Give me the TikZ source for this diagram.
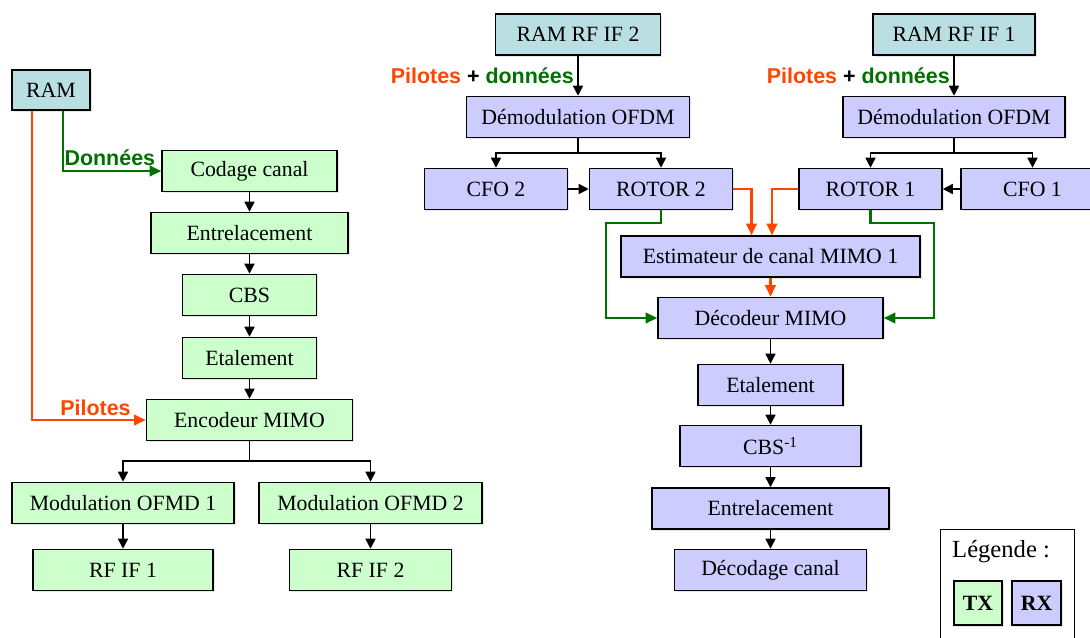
\documentclass[tikz,border=0pt]{standalone}
\usepackage{fontspec}
\setmainfont{Liberation Serif}
\newfontfamily\tagfont{Liberation Sans}
\usetikzlibrary{arrows.meta,positioning,shadows}
\definecolor{txgreen}{RGB}{204,255,204}
\definecolor{rxblue}{RGB}{204,204,255}
\definecolor{ramteal}{RGB}{185,223,226}
\definecolor{pilotred}{RGB}{255,69,0}
\definecolor{datagreen}{RGB}{0,112,0}
\tikzset{
  >={Triangle[length=2mm,width=2mm]},
  blk/.style={draw=black,fill=#1,line width=0.9pt,minimum height=8.2mm,inner sep=1pt,
    font=\fontsize{12.4}{14}\selectfont,
    drop shadow={opacity=0.2,shadow xshift=0.35mm,shadow yshift=-0.35mm}},
  blk/.default=txgreen,
  link/.style={->,line width=0.9pt,draw=black},
  pilot/.style={-{Triangle[length=2.3mm,width=2.1mm]},line width=1.2pt,draw=pilotred},
  data/.style={-{Triangle[length=2.3mm,width=2.1mm]},line width=1.2pt,draw=datagreen},
  tag/.style={font=\tagfont\bfseries\fontsize{12.2}{14}\selectfont,inner sep=1pt},
}
\begin{document}
\begin{tikzpicture}[x=0.2mm,y=-0.2mm]
  \clip (0,0) rectangle (1090,637);
  % emission
  \node[blk=ramteal,minimum width=15.6mm,minimum height=8mm] (ram) at (51,90) {RAM};
  \node[blk,minimum width=35mm] (codage) at (249.5,171) {Codage canal};
  \node[blk,minimum width=39.4mm] (entrel) at (249.5,233) {Entrelacement};
  \node[blk,minimum width=26.8mm] (cbs) at (249.5,295) {CBS};
  \node[blk,minimum width=26.8mm] (etal) at (249.5,358) {Etalement};
  \node[blk,minimum width=41.2mm] (enc) at (249.5,420) {Encodeur MIMO};
  \node[blk,minimum width=44.4mm] (mod1) at (123,503) {Modulation OFMD 1};
  \node[blk,minimum width=44.6mm] (mod2) at (370.5,503) {Modulation OFMD 2};
  \node[blk,minimum width=36mm] (rf1) at (123,570) {RF IF 1};
  \node[blk,minimum width=32.4mm] (rf2) at (370.5,570) {RF IF 2};
  \foreach \a/\b in {codage/entrel,entrel/cbs,cbs/etal,etal/enc,mod1/rf1,mod2/rf2}
    \draw[link] (\a) -- (\b);
  \coordinate (encfork) at (249.5,461);
  \draw[link] (enc) -- (encfork) -| (mod1);
  \draw[link] (encfork) -| (mod2);
  \draw[data] ([xshift=2.4mm]ram.south) |- (codage.west);
  \node[tag,text=datagreen,anchor=south east] (datalbl) at ([xshift=-0.8mm,yshift=0.6mm]codage.west) {Données};
  \draw[pilot] ([xshift=-3.8mm]ram.south) |- (enc.west);
  \node[tag,text=pilotred,anchor=south east] (pilotlbl) at ([xshift=-2.6mm,yshift=0.5mm]enc.west) {Pilotes};
  % reception
  \node[blk=ramteal,minimum width=33mm] (ramrf2) at (578,34.5) {RAM RF IF 2};
  \node[blk=ramteal,minimum width=32.4mm] (ramrf1) at (954,34.5) {RAM RF IF 1};
  \node[blk=rxblue,minimum width=44.6mm] (demod2) at (578,117) {Démodulation OFDM};
  \node[blk=rxblue,minimum width=44.4mm] (demod1) at (954,117) {Démodulation OFDM};
  \node[blk=rxblue,minimum width=28.6mm] (cfo2) at (496,189) {CFO 2};
  \node[blk=rxblue,minimum width=28.6mm] (rotor2) at (661,189) {ROTOR 2};
  \node[blk=rxblue,minimum width=28.6mm] (rotor1) at (870.5,189) {ROTOR 1};
  \node[blk=rxblue,minimum width=28.6mm] (cfo1) at (1032.5,189) {CFO 1};
  \node[blk=rxblue,minimum width=59.8mm] (estim) at (770.5,256.5) {Estimateur de canal MIMO 1};
  \node[blk=rxblue,minimum width=45mm] (decod) at (770.5,318) {Décodeur MIMO};
  \node[blk=rxblue,minimum width=29mm] (etal2) at (770.5,385) {Etalement};
  \node[blk=rxblue,minimum width=36.2mm] (cbsinv) at (770.5,446) {CBS\textsuperscript{-1}};
  \node[blk=rxblue,minimum width=47.5mm] (entrel2) at (770.5,508.5) {Entrelacement};
  \node[blk=rxblue,minimum width=38.4mm] (decodage) at (770.5,570) {Décodage canal};
  \draw[link] (ramrf2) -- node[tag,left=1pt] {\textcolor{pilotred}{Pilotes} + \textcolor{datagreen}{données}} (demod2);
  \draw[link] (ramrf1) -- node[tag,left=1pt] {\textcolor{pilotred}{Pilotes} + \textcolor{datagreen}{données}} (demod1);
  \coordinate (d2fork) at (578,153);
  \coordinate (d1fork) at (954,153);
  \draw[link] (demod2) -- (d2fork) -| (cfo2);
  \draw[link] (d2fork) -| (rotor2);
  \draw[link] (demod1) -- (d1fork) -| (rotor1);
  \draw[link] (d1fork) -| (cfo1);
  \draw[link] (cfo2) -- (rotor2);
  \draw[link] (cfo1) -- (rotor1);
  \draw[pilot] (rotor2.east) -| ([xshift=-3.8mm]estim.north);
  \draw[pilot] (rotor1.west) -| ([xshift=0.3mm]estim.north);
  \draw[pilot] (estim) -- (decod);
  \draw[data] (rotor2.south) -- ++(0,13) -| ([xshift=-10.2mm]decod.west) -- (decod.west);
  \draw[data] (rotor1.south) -- ++(0,13) -| ([xshift=10mm]decod.east) -- (decod.east);
  \foreach \a/\b in {decod/etal2,etal2/cbsinv,cbsinv/entrel2,entrel2/decodage}
    \draw[link] (\a) -- (\b);
  % legende
  \node[draw,line width=0.6pt,minimum width=26.8mm,minimum height=26mm,anchor=north west] (legend) at (940,529) {};
  \node[font=\fontsize{14}{16}\selectfont,anchor=west] (legtitle) at (946,552) {Légende :};
  \node[blk,minimum width=9.7mm,minimum height=8.8mm,font=\fontsize{12.4}{14}\selectfont\bfseries] (legtx) at (978,603) {TX};
  \node[blk=rxblue,minimum width=9.8mm,minimum height=8.8mm,font=\fontsize{12.4}{14}\selectfont\bfseries] (legrx) at (1036.5,603) {RX};
\end{tikzpicture}
\end{document}
